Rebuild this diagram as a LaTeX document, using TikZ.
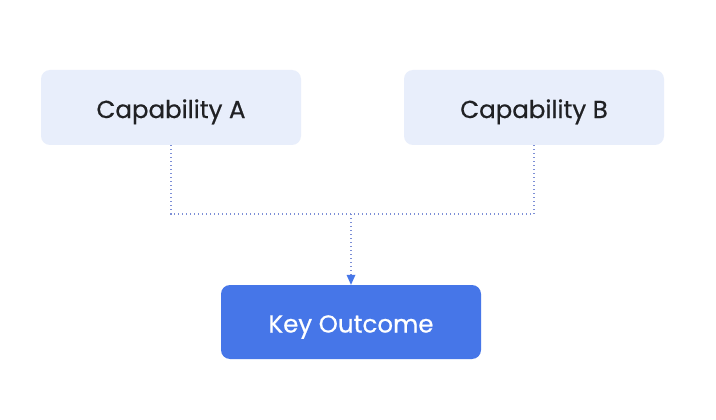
\documentclass[tikz,border=0pt]{standalone}
\usepackage{fontspec}
\setmainfont{Poppins}[FakeBold=0.6]
\newfontfamily\boxfont{Poppins}[FakeBold=0.6]
\usetikzlibrary{arrows.meta}
\definecolor{lightbox}{HTML}{E8EEFB}
\definecolor{darkbox}{HTML}{4676E8}
\definecolor{txt}{HTML}{202124}
\definecolor{dotc}{HTML}{7D8FD6}
\tikzset{
  x=1pt,y=-1pt,
  capbox/.style={fill=lightbox, rounded corners=9pt, minimum width=260pt, minimum height=75pt, text=txt, font=\boxfont\fontsize{24.5}{29}\selectfont, inner sep=0pt, text height=21pt, text depth=0pt},
  keybox/.style={fill=darkbox, rounded corners=9pt, minimum width=260pt, minimum height=74pt, text=white, font=\boxfont\fontsize{24.5}{29}\selectfont, inner sep=0pt, text height=21pt, text depth=0pt},
  dotline/.style={draw=dotc, line width=1.1pt, dash pattern=on 1pt off 3pt},
}
\begin{document}
\begin{tikzpicture}
\useasboundingbox (0,0) rectangle (716,420);
\fill[white] (0,0) rectangle (716,420);
\node[capbox] (a) at (171,107.5) {Capability A};
\node[capbox] (b) at (534,107.5) {Capability B};
\node[keybox] (k) at (351,322) {Key Outcome};
\coordinate (ja) at (171,214);
\coordinate (jb) at (534,214);
\coordinate (jm) at (351,214);
\draw[dotline] (a.south) -- (ja) -- (jb) -- (b.south);
\draw[dotline, -{Triangle[width=9pt,length=10pt,fill=darkbox,line width=0pt,sep=0pt]}] (jm) -- (k.north);
\end{tikzpicture}
\end{document}
